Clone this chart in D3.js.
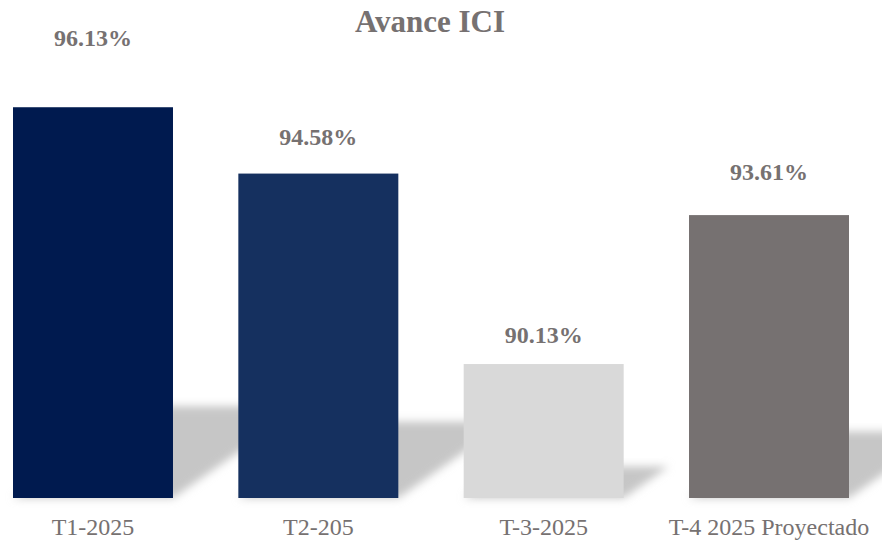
<!DOCTYPE html>
<html>
<head>
<meta charset="utf-8">
<script src="https://cdn.jsdelivr.net/npm/d3@7"></script>
<style>
  body { margin: 0; background: #fff; }
  svg { display: block; }
</style>
</head>
<body>
<svg width="882" height="540"></svg>
<script>
const categories = ["T1-2025", "T2-205", "T-3-2025", "T-4 2025 Proyectado"]
const values = [96.13, 94.58, 90.13, 93.61]
const barColors = ["#001a4f", "#15305f", "#d9d9d9", "#767171"]
// labels were nudged by hand in the original, px above bar top
const labelLift = [61, 29, 21, 35]

const svg = d3.select("svg")
const textColor = "#767171"
const serif = "'Liberation Serif', 'Times New Roman', serif"

const x = d3.scaleBand()
    .domain(categories)
    .range([13, 849])
    .paddingInner(0.29)
    .paddingOuter(0)

const y = d3.scaleLinear()
    .domain([87, 97])
    .range([498, 70])

const defs = svg.append("defs")
defs.append("filter")
    .attr("id", "blur")
    .attr("x", "-20%").attr("y", "-20%")
    .attr("width", "140%").attr("height", "140%")
    .append("feGaussianBlur")
    .attr("stdDeviation", 4)

// perspective shadow leaning up and to the right
const shadowK = 0.235
const shadowSkew = 0.336
svg.append("g")
    .attr("filter", "url(#blur)")
    .selectAll("path")
    .data(values)
    .enter()
    .append("path")
    .attr("fill", "#c6c6c6")
    .attr("d", (d, i) => {
        const x0 = x(categories[i])
        const x1 = x0 + x.bandwidth()
        const b = y(87)
        const h = b - y(d)
        const dx = h * shadowSkew
        const top = b - h * shadowK
        return `M${x0},${b}L${x1},${b}L${x1 + dx},${top}L${x0 + dx},${top}Z`
    })

svg.append("g")
    .selectAll("rect")
    .data(values)
    .enter()
    .append("rect")
    .attr("x", (d, i) => x(categories[i]))
    .attr("y", d => y(d))
    .attr("width", x.bandwidth())
    .attr("height", d => y(87) - y(d))
    .attr("fill", (d, i) => barColors[i])

const format = d3.format(".2f")
svg.append("g")
    .selectAll("text")
    .data(values)
    .enter()
    .append("text")
    .attr("x", (d, i) => x(categories[i]) + x.bandwidth() / 2)
    .attr("y", (d, i) => y(d) - labelLift[i])
    .attr("text-anchor", "middle")
    .style("font-family", serif)
    .style("font-weight", "bold")
    .style("font-size", "24px")
    .style("fill", textColor)
    .text(d => format(d) + "%")

svg.append("g")
    .selectAll("text")
    .data(categories)
    .enter()
    .append("text")
    .attr("x", d => x(d) + x.bandwidth() / 2)
    .attr("y", 535)
    .attr("text-anchor", "middle")
    .style("font-family", serif)
    .style("font-size", "24px")
    .style("fill", textColor)
    .text(d => d)

svg.append("text")
    .attr("x", 430)
    .attr("y", 32)
    .attr("text-anchor", "middle")
    .style("font-family", serif)
    .style("font-weight", "bold")
    .style("font-size", "31px")
    .style("fill", textColor)
    .text("Avance ICI")
</script>
</body>
</html>
